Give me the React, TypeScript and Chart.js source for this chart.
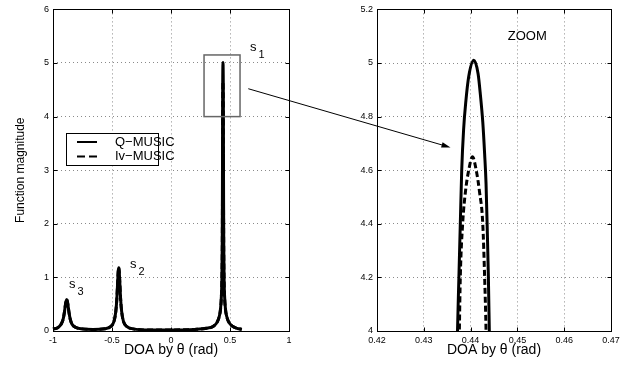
import React, { useEffect, useRef } from 'react';
import { Chart, registerables } from 'chart.js';

Chart.register(...registerables);

// ---- data ----
const qMusicX = [
  -1.0, -0.96, -0.93, -0.914, -0.904, -0.894, -0.889, -0.884, -0.879, -0.874, -0.864, -0.854, -0.84, -0.81, -0.76,
  -0.66, -0.56, -0.513, -0.483, -0.468, -0.459, -0.451, -0.447, -0.443, -0.439, -0.435, -0.427, -0.418, -0.403, -0.373, -0.32,
  -0.2, 0.0, 0.2, 0.3, 0.36, 0.39, 0.41, 0.42, 0.427, 0.431, 0.434, 0.4355, 0.4365,
  0.4372, 0.4375, 0.4378, 0.4381, 0.4385, 0.439, 0.4396, 0.4407, 0.4416, 0.4421, 0.4426, 0.443, 0.4433, 0.4436, 0.4438, 0.444,
  0.4447, 0.4457, 0.4472, 0.4502, 0.4542, 0.4612, 0.4712, 0.4912, 0.52, 0.56, 0.6,
];
const qMusicY = [
  0.04, 0.06, 0.13, 0.22, 0.34, 0.5, 0.56, 0.59, 0.56, 0.5, 0.34, 0.22, 0.13, 0.07, 0.04,
  0.03, 0.04, 0.08, 0.18, 0.36, 0.6, 0.96, 1.12, 1.18, 1.12, 0.96, 0.6, 0.36, 0.18, 0.08, 0.04,
  0.02, 0.02, 0.03, 0.05, 0.09, 0.16, 0.28, 0.42, 0.65, 0.95, 1.6, 2.4, 3.3,
  4.0, 4.2, 4.4, 4.6, 4.75, 4.86, 4.95, 5.01, 4.96, 4.88, 4.78, 4.66, 4.55, 4.35, 4.2, 4.0,
  3.3, 2.4, 1.6, 0.95, 0.65, 0.42, 0.28, 0.16, 0.09, 0.05, 0.03,
];
const ivMusicX = [
  -1.0, -0.96, -0.93, -0.914, -0.904, -0.894, -0.889, -0.884, -0.879, -0.874, -0.864, -0.854, -0.84, -0.81, -0.76,
  -0.66, -0.56, -0.513, -0.483, -0.468, -0.459, -0.451, -0.447, -0.443, -0.439, -0.435, -0.427, -0.418, -0.403, -0.373, -0.32,
  -0.2, 0.0, 0.2, 0.3, 0.36, 0.39, 0.41, 0.42, 0.427, 0.431, 0.4345, 0.436, 0.437,
  0.4376, 0.4378, 0.4383, 0.4389, 0.4396, 0.4404, 0.4412, 0.4419, 0.4426, 0.443, 0.4433,
  0.444, 0.4452, 0.4468, 0.4502, 0.4542, 0.4612, 0.4712, 0.4912, 0.52, 0.56, 0.6,
];
const ivMusicY = [
  0.04, 0.06, 0.13, 0.22, 0.34, 0.5, 0.56, 0.59, 0.56, 0.5, 0.34, 0.22, 0.13, 0.07, 0.04,
  0.03, 0.04, 0.08, 0.18, 0.36, 0.6, 0.96, 1.12, 1.18, 1.12, 0.96, 0.6, 0.36, 0.18, 0.08, 0.04,
  0.02, 0.02, 0.03, 0.05, 0.09, 0.16, 0.28, 0.41, 0.63, 0.92, 1.5, 2.3, 3.2,
  4.0, 4.2, 4.4, 4.52, 4.6, 4.65, 4.6, 4.52, 4.4, 4.2, 4.0,
  3.2, 2.3, 1.5, 0.92, 0.63, 0.41, 0.28, 0.16, 0.09, 0.05, 0.03,
];
const seriesLabels = ['Q\u2212MUSIC', 'Iv\u2212MUSIC'];

const leftXTicks = [-1, -0.5, 0, 0.5, 1];
const leftYTicks = [0, 1, 2, 3, 4, 5, 6];
const zoomXTicks = [0.42, 0.43, 0.44, 0.45, 0.46, 0.47];
const zoomYTicks = [4, 4.2, 4.4, 4.6, 4.8, 5, 5.2];

const xTitle = 'DOA by \u03b8 (rad)';
const yTitle = 'Function magnitude';

// annotations (data coordinates)
const sourceLabels = [
  { name: 's', sub: '1', x: 0.669, y: 5.23 },
  { name: 's', sub: '2', x: -0.347, y: 1.17 },
  { name: 's', sub: '3', x: -0.864, y: 0.8 },
];
const zoomBox = { x0: 0.28, x1: 0.585, y0: 4.0, y1: 5.15 };
const zoomText = { text: 'ZOOM', x: 0.4521, y: 5.1 };
const arrowFrom = { x: 0.655, y: 4.52 };
const arrowTo = { x: 0.4357, y: 4.685 };

const FONT = "'Liberation Sans', Arial, Helvetica, sans-serif";

const framePlugin = {
  id: 'frame',
  afterDraw(chart: any) {
    const { ctx, chartArea: a } = chart;
    const xs = chart.scales.x;
    const ys = chart.scales.y;
    const L = Math.round(a.left) + 0.5;
    const R = Math.round(a.right) + 0.5;
    const T = Math.round(a.top) + 0.5;
    const B = Math.round(a.bottom) + 0.5;
    ctx.save();
    ctx.setLineDash([]);
    ctx.strokeStyle = '#000';
    ctx.lineWidth = 1;
    ctx.strokeRect(L, T, R - L, B - T);
    ctx.beginPath();
    xs.ticks.forEach((t: any) => {
      const px = Math.round(xs.getPixelForValue(t.value)) + 0.5;
      ctx.moveTo(px, B); ctx.lineTo(px, B - 4);
      ctx.moveTo(px, T); ctx.lineTo(px, T + 4);
    });
    ys.ticks.forEach((t: any) => {
      const py = Math.round(ys.getPixelForValue(t.value)) + 0.5;
      ctx.moveTo(L, py); ctx.lineTo(L + 4, py);
      ctx.moveTo(R, py); ctx.lineTo(R - 4, py);
    });
    ctx.stroke();
    ctx.restore();
  },
};

const leftNotesPlugin = {
  id: 'leftNotes',
  afterDraw(chart: any) {
    const { ctx, chartArea: a } = chart;
    const xs = chart.scales.x;
    const ys = chart.scales.y;
    ctx.save();
    // zoom rectangle
    ctx.strokeStyle = '#666';
    ctx.lineWidth = 1.5;
    const rx0 = xs.getPixelForValue(zoomBox.x0);
    const rx1 = xs.getPixelForValue(zoomBox.x1);
    const ry0 = ys.getPixelForValue(zoomBox.y1);
    const ry1 = ys.getPixelForValue(zoomBox.y0);
    ctx.strokeRect(rx0, ry0, rx1 - rx0, ry1 - ry0);
    // source labels
    ctx.fillStyle = '#000';
    ctx.textAlign = 'left';
    ctx.textBaseline = 'alphabetic';
    sourceLabels.forEach((s) => {
      const px = xs.getPixelForValue(s.x);
      const py = ys.getPixelForValue(s.y);
      ctx.font = `13px ${FONT}`;
      ctx.fillText(s.name, px, py);
      const w = ctx.measureText(s.name).width;
      ctx.font = `11px ${FONT}`;
      ctx.fillText(s.sub, px + w + 2, py + 7);
    });
    // legend
    const lx = Math.round(a.left) + 13;
    const ly = Math.round(a.top) + 124;
    const lw = 92;
    const lh = 32;
    ctx.fillStyle = '#fff';
    ctx.fillRect(lx, ly, lw, lh);
    ctx.strokeStyle = '#000';
    ctx.lineWidth = 1;
    ctx.setLineDash([]);
    ctx.strokeRect(lx + 0.5, ly + 0.5, lw, lh);
    chart.data.datasets.forEach((ds: any, i: number) => {
      const yy = ly + 9 + i * 14.5;
      ctx.strokeStyle = '#000';
      ctx.lineWidth = 2;
      ctx.setLineDash(ds.borderDash ? [8, 4] : []);
      ctx.beginPath();
      ctx.moveTo(lx + 11, yy);
      ctx.lineTo(lx + 31, yy);
      ctx.stroke();
      ctx.fillStyle = '#000';
      ctx.font = `13px ${FONT}`;
      ctx.textBaseline = 'middle';
      ctx.fillText(ds.label, lx + 49, yy);
    });
    ctx.restore();
  },
};

export default function App() {
  const leftRef = useRef<HTMLCanvasElement>(null);
  const rightRef = useRef<HTMLCanvasElement>(null);

  useEffect(() => {
    if (!leftRef.current || !rightRef.current) return;
    Chart.defaults.font.family = FONT;
    Chart.defaults.color = '#000';

    const makeDatasets = () => [
      {
        label: seriesLabels[0],
        data: qMusicX.map((x, i) => ({ x, y: qMusicY[i] })),
        borderColor: '#000',
        borderWidth: 3,
        pointRadius: 0,
        fill: false,
        cubicInterpolationMode: 'monotone' as const,
        clip: 1,
      },
      {
        label: seriesLabels[1],
        data: ivMusicX.map((x, i) => ({ x, y: ivMusicY[i] })),
        borderColor: '#000',
        borderWidth: 3,
        borderDash: [6, 3],
        pointRadius: 0,
        fill: false,
        cubicInterpolationMode: 'monotone' as const,
        clip: 1,
      },
    ];

    const axis = (ticksArr: number[], fitSize: number, isX: boolean, title: any) => ({
      type: 'linear' as const,
      min: ticksArr[0],
      max: ticksArr[ticksArr.length - 1],
      afterBuildTicks: (scale: any) => {
        scale.ticks = ticksArr.map((v) => ({ value: v }));
      },
      afterFit: (scale: any) => {
        if (isX) scale.height = fitSize;
        else scale.width = fitSize;
      },
      ticks: {
        font: { size: 9, family: FONT },
        color: '#000',
        padding: 4,
        autoSkip: false,
        maxRotation: 0,
        callback: (v: any) => String(v),
      },
      grid: {
        color: '#8a8a8a',
        lineWidth: 1,
        drawTicks: false,
      },
      border: { display: false, dash: [1, 3] },
      title,
    });

    const common = {
      responsive: false,
      animation: false as const,
      events: [] as any[],
      plugins: { legend: { display: false }, tooltip: { enabled: false } },
    };

    const left = new Chart(leftRef.current, {
      type: 'line',
      data: { datasets: makeDatasets() },
      options: {
        ...common,
        layout: { padding: { left: 0, right: 347, top: 9, bottom: 0 } },
        scales: {
          x: axis(leftXTicks, 34, true, {
            display: true, text: xTitle, font: { size: 14, family: FONT }, color: '#000', padding: { top: 0, bottom: 6 },
          }),
          y: axis(leftYTicks, 53, false, {
            display: true, text: yTitle, font: { size: 12, family: FONT }, color: '#000', padding: { top: 13, bottom: 0 },
          }),
        },
      },
      plugins: [framePlugin, leftNotesPlugin],
    });

    const rightNotesPlugin = {
      id: 'rightNotes',
      afterDraw(chart: any) {
        const { ctx } = chart;
        const xs = chart.scales.x;
        const ys = chart.scales.y;
        ctx.save();
        ctx.fillStyle = '#000';
        ctx.font = `13px ${FONT}`;
        ctx.textAlign = 'center';
        ctx.textBaseline = 'middle';
        ctx.fillText(zoomText.text, xs.getPixelForValue(zoomText.x), ys.getPixelForValue(zoomText.y));
        // arrow from the left panel box to the zoom panel
        const x1 = left.scales.x.getPixelForValue(arrowFrom.x);
        const y1 = left.scales.y.getPixelForValue(arrowFrom.y);
        const x2 = xs.getPixelForValue(arrowTo.x);
        const y2 = ys.getPixelForValue(arrowTo.y);
        const ang = Math.atan2(y2 - y1, x2 - x1);
        const hl = 9;
        const hw = 2.8;
        ctx.strokeStyle = '#000';
        ctx.lineWidth = 1;
        ctx.beginPath();
        ctx.moveTo(x1, y1);
        ctx.lineTo(x2 - hl * 0.6 * Math.cos(ang), y2 - hl * 0.6 * Math.sin(ang));
        ctx.stroke();
        ctx.beginPath();
        ctx.moveTo(x2, y2);
        ctx.lineTo(x2 - hl * Math.cos(ang) + hw * Math.sin(ang), y2 - hl * Math.sin(ang) - hw * Math.cos(ang));
        ctx.lineTo(x2 - hl * Math.cos(ang) - hw * Math.sin(ang), y2 - hl * Math.sin(ang) + hw * Math.cos(ang));
        ctx.closePath();
        ctx.fill();
        ctx.restore();
      },
    };

    const right = new Chart(rightRef.current, {
      type: 'line',
      data: { datasets: makeDatasets().map((d) => ({ ...d, clip: 0 })) },
      options: {
        ...common,
        layout: { padding: { left: 320, right: 25, top: 9, bottom: 0 } },
        scales: {
          x: axis(zoomXTicks, 34, true, {
            display: true, text: xTitle, font: { size: 14, family: FONT }, color: '#000', padding: { top: 0, bottom: 6 },
          }),
          y: axis(zoomYTicks, 57, false, { display: false }),
        },
      },
      plugins: [framePlugin, rightNotesPlugin],
    });

    return () => {
      right.destroy();
      left.destroy();
    };
  }, []);

  const canvasStyle: React.CSSProperties = { position: 'absolute', left: 0, top: 0, width: 636, height: 365 };
  return (
    <div style={{ position: 'absolute', left: 0, top: 0, width: 636, height: 365, background: '#fff' }}>
      <canvas ref={leftRef} width={636} height={365} style={canvasStyle} />
      <canvas ref={rightRef} width={636} height={365} style={canvasStyle} />
    </div>
  );
}
